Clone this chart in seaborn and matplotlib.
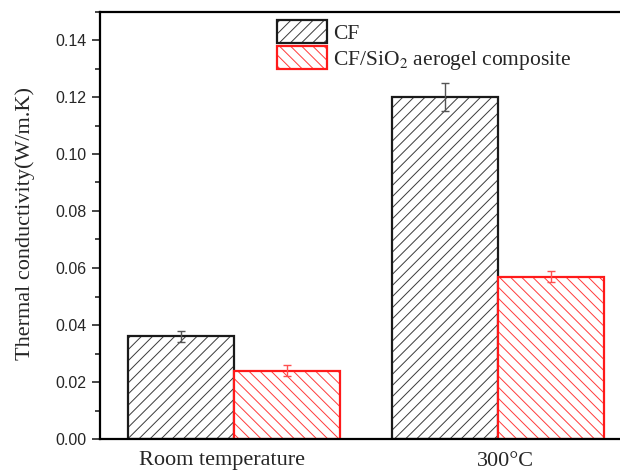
import matplotlib
matplotlib.use("Agg")
import matplotlib.pyplot as plt
import matplotlib.transforms as mtransforms
import seaborn as sns
import pandas as pd
import numpy as np
from matplotlib.ticker import MultipleLocator

categories = ["Room temperature", "300°C"]
series = ["CF", "CF/SiO$_2$ aerogel composite"]
cf_values = [0.036, 0.120]
cf_errors = [0.002, 0.005]
comp_values = [0.024, 0.057]
comp_errors = [0.002, 0.002]

df = pd.DataFrame({
    "cat": categories * 2,
    "series": [series[0]] * 2 + [series[1]] * 2,
    "val": cf_values + comp_values,
})

sns.set_style("ticks")
plt.rcParams["hatch.linewidth"] = 0.7
plt.rcParams["mathtext.fontset"] = "stix"

fig = plt.figure(figsize=(6.2, 4.75), dpi=100)
ax = fig.add_axes([100 / 620, 36 / 475, 530 / 620, 427.5 / 475])

edge_colors = ["#1a1a1a", "#ff1a1a"]
hatch_colors = ["#3a3a3a", "#ff3a3a"]
hatches = ["///", "\\\\\\"]

sns.barplot(data=df, x="cat", y="val", hue="series", hue_order=series,
            order=categories, palette=["white", "white"], width=0.8,
            errorbar=None, ax=ax, legend=True)

errs = [cf_errors, comp_errors]
vals = [cf_values, comp_values]
bar_conts = list(ax.containers)[:2]
for i, cont in enumerate(bar_conts):
    for j, bar in enumerate(cont.patches):
        bar.set_facecolor("white")
        bar.set_edgecolor(edge_colors[i])
        bar.set_hatch(hatches[i])
        bar.set_linewidth(1.6)
        bar._hatch_color = matplotlib.colors.to_rgba(hatch_colors[i])
        cx = bar.get_x() + bar.get_width() / 2
        ax.errorbar(cx, vals[i][j], yerr=errs[i][j], fmt="none",
                    ecolor="#555555" if i == 0 else "#ff5050",
                    elinewidth=1.0, capsize=3, capthick=1.0, zorder=5)

# legend
handles, labels = ax.get_legend_handles_labels()
for k, h in enumerate(handles):
    h.set_facecolor("white")
    h.set_edgecolor(edge_colors[k])
    h.set_hatch(hatches[k])
    h.set_linewidth(1.6)
    h._hatch_color = matplotlib.colors.to_rgba(hatch_colors[k])
leg = ax.legend(handles, labels, loc="upper left", bbox_to_anchor=(0.318, 1.0),
                frameon=False, prop={"family": "Liberation Serif", "size": 15.5},
                handlelength=2.3, handleheight=1.25, handletextpad=0.3,
                labelspacing=0.12, borderaxespad=0.0)

ax.set_ylim(0, 0.15)
ax.set_xlim(-0.5076, 1.5)
ax.yaxis.set_minor_locator(MultipleLocator(0.01))
ax.set_yticks([0.0, 0.02, 0.04, 0.06, 0.08, 0.10, 0.12, 0.14])
ax.set_yticklabels(["0.00", "0.02", "0.04", "0.06", "0.08", "0.10", "0.12", "0.14"],
                   family="Liberation Sans", fontsize=11.5)
ax.set_xticks([0, 1])
ax.set_xticklabels(categories, family="Liberation Serif", fontsize=16)
ax.tick_params(axis="x", length=0, pad=9)
ax.tick_params(axis="y", which="major", length=6, width=1.2, direction="out")
ax.tick_params(axis="y", which="minor", length=3.5, width=1.2, direction="out")
# slight horizontal offsets of the category labels as in the reference
offs = [-12, 7]
for lab, dx in zip(ax.get_xticklabels(), offs):
    lab.set_transform(lab.get_transform() +
                      mtransforms.ScaledTranslation(dx / 100, 0, fig.dpi_scale_trans))
ax.set_xlabel("")
ax.set_ylabel("Thermal conductivity(W/m.K)", family="Liberation Serif", fontsize=16)
ax.yaxis.set_label_coords(-0.123, 0.505)
ax.spines["right"].set_visible(False)
for s in ["left", "bottom", "top"]:
    ax.spines[s].set_linewidth(1.6)
    ax.spines[s].set_color("black")

fig.savefig("out.png", dpi=100)
